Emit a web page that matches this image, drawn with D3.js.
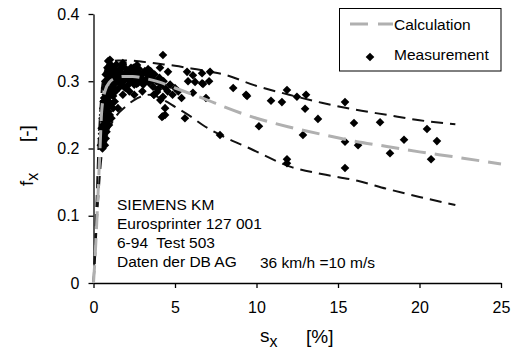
<!DOCTYPE html>
<html><head><meta charset="utf-8">
<script src="https://cdn.jsdelivr.net/npm/d3@7"></script>
<style>body{margin:0;background:#fff}svg{display:block}text{font-family:"Liberation Sans",Arial,sans-serif;fill:#000}</style>
</head><body><svg id="c" width="517" height="354"></svg>
<script>
// ---- data ----
const xTicks = [0, 5, 10, 15, 20, 25];
const yTicks = [0, 0.1, 0.2, 0.3, 0.4];

const calcS = [0,0.1,0.2,0.3,0.4,0.5,0.7,1.0,1.4,1.8,2.4,3,4,5,6,7,8,10,12,14,16,18,20,22,25];
const calcF = [0,0.04,0.09,0.145,0.2,0.255,0.285,0.299,0.305,0.307,0.307,0.305,0.299,0.29,0.281,0.272,0.262,0.245,0.232,0.221,0.211,0.203,0.195,0.188,0.177];

const upperS = [0,0.1,0.2,0.3,0.4,0.5,0.65,0.8,1.0,1.5,2,3,4,5,6,7,8,10,12,14,16,18,20,22.2];
const upperF = [0,0.06,0.13,0.2,0.25,0.285,0.31,0.322,0.328,0.331,0.331,0.329,0.326,0.323,0.319,0.315,0.31,0.293,0.28,0.268,0.258,0.25,0.242,0.236];

const lowerS = [0,0.1,0.2,0.3,0.5,0.8,1.3,2,2.7,3.5,4.3,5,6,6.7,7.8,9.6,12.2,14,16.2,18,20,22.2];
const lowerF = [0,0.04,0.09,0.13,0.19,0.22,0.245,0.263,0.275,0.28,0.272,0.262,0.247,0.235,0.22,0.2,0.172,0.162,0.152,0.14,0.128,0.116];

const measS = [
 0.45,0.5,0.55,0.6,0.65,0.7,0.75,0.5,0.6,0.7,0.8,0.55,0.65,0.75,0.85,0.95,0.6,0.7,0.8,0.9,1.0,1.1,0.65,0.75,0.85,0.95,1.05,1.2,1.3,0.7,0.8,0.9,1.0,1.1,1.2,1.35,
 0.75,0.85,0.9,0.95,1.0,1.05,1.1,1.15,1.2,1.25,1.3,1.35,1.4,1.45,1.5,1.55,1.6,1.65,1.7,1.75,1.8,1.85,1.9,1.95,2.0,2.1,2.15,2.2,2.3,2.35,2.4,2.5,2.55,2.6,2.7,2.75,2.8,2.9,3.0,3.05,3.15,3.2,3.3,3.4,3.5,3.55,3.65,3.75,3.85,3.95,4.05,4.15,4.3,4.4,4.55,4.7,4.85,5.0,5.2,5.4,
 0.52,0.58,0.62,0.68,0.72,0.78,0.82,0.88,0.92,0.98,1.08,1.18,1.28,1.42,1.58,1.72,1.88,2.05,2.25,2.45,2.65,2.85,3.1,3.35,3.6,
 1.5,1.8,2.2,2.5,3.0,3.7,3.9,4.26,4.39,4.39,4.2,4.1,4.26,1.01,2.67,4.26,4.08,4.57,1.8,
 5.74,6.1,6.66,7.15,5.8,6.23,6.66,6.72,7.09,6.1,6.9,5.61,3.71,7.76,9.42,
 8.57,9.36,10.89,11.56,11.87,12.48,13.04,12.98,13.77,10.15,12.85,11.87,11.87,15.43,15.43,15.43,15.98,17.58,20.46,16.23,19.05,21.07,18.19,20.71
];
const measF = [
 0.205,0.215,0.2,0.21,0.22,0.205,0.215,0.23,0.235,0.23,0.225,0.245,0.25,0.245,0.24,0.235,0.26,0.265,0.26,0.255,0.25,0.245,0.275,0.28,0.275,0.27,0.265,0.26,0.27,0.29,0.295,0.288,0.285,0.28,0.278,0.285,
 0.31,0.32,0.33,0.305,0.315,0.325,0.3,0.31,0.32,0.295,0.305,0.315,0.325,0.3,0.31,0.29,0.318,0.305,0.295,0.312,0.325,0.3,0.31,0.29,0.318,0.305,0.295,0.312,0.32,0.3,0.31,0.295,0.315,0.305,0.312,0.298,0.318,0.305,0.31,0.295,0.315,0.302,0.31,0.298,0.315,0.305,0.292,0.31,0.3,0.288,0.305,0.295,0.3,0.29,0.285,0.295,0.28,0.29,0.285,0.275,
 0.222,0.25,0.27,0.24,0.3,0.27,0.31,0.3,0.28,0.32,0.31,0.292,0.315,0.308,0.3,0.32,0.292,0.308,0.302,0.32,0.296,0.31,0.3,0.318,0.302,
 0.26,0.28,0.285,0.28,0.285,0.28,0.284,0.277,0.26,0.25,0.247,0.272,0.248,0.332,0.324,0.339,0.32,0.314,0.327,
 0.314,0.309,0.312,0.314,0.3,0.299,0.297,0.296,0.3,0.283,0.275,0.245,0.28,0.22,0.278,
 0.29,0.28,0.271,0.269,0.287,0.277,0.28,0.259,0.244,0.233,0.22,0.184,0.178,0.269,0.21,0.171,0.238,0.239,0.229,0.205,0.213,0.211,0.193,0.184
];

const infoLines = ["SIEMENS KM", "Eurosprinter 127 001", "6-94  Test 503", "Daten der DB AG"];
const speedNote = "36 km/h =10 m/s";

// ---- chart ----
const svg = d3.select("#c");
const x = d3.scaleLinear([0, 25], [93.5, 501]);
const y = d3.scaleLinear([0, 0.4], [283, 14]);

const font = '"Liberation Sans",Arial,sans-serif';

const yAxis = svg.append("g").attr("transform", "translate(93.5,0)")
  .call(d3.axisLeft(y).tickValues(yTicks).tickSize(5).tickSizeOuter(0).tickPadding(9)
    .tickFormat(d => d === 0 ? "0" : d3.format(".1f")(d)));
const xAxis = svg.append("g").attr("transform", "translate(0,283)")
  .call(d3.axisBottom(x).tickValues(xTicks).tickSize(5).tickSizeOuter(0).tickPadding(13.5));
[yAxis, xAxis].forEach(g => {
  g.selectAll("path,line").attr("stroke", "#000").attr("stroke-width", 1.3);
  g.selectAll("text").attr("font-size", 16).attr("font-family", font).attr("fill", "#000");
});

const line = d3.line().x(d => x(d[0])).y(d => y(d[1])).curve(d3.curveMonotoneX);
const zip = (a, b) => a.map((v, i) => [v, b[i]]);

svg.append("path").datum(zip(upperS, upperF)).attr("d", line)
  .attr("fill", "none").attr("stroke", "#111").attr("stroke-width", 2).attr("stroke-dasharray", "12,7");
svg.append("path").datum(zip(lowerS, lowerF)).attr("d", line)
  .attr("fill", "none").attr("stroke", "#111").attr("stroke-width", 2).attr("stroke-dasharray", "12,7");

const diamond = "M0,-4.3L4.3,0L0,4.3L-4.3,0Z";
svg.append("g").selectAll("path").data(zip(measS, measF)).join("path")
  .attr("d", diamond).attr("transform", d => `translate(${x(d[0])},${y(d[1])})`).attr("fill", "#000");

svg.append("path").datum(zip(calcS, calcF)).attr("d", line)
  .attr("fill", "none").attr("stroke", "#b0b0b0").attr("stroke-width", 3).attr("stroke-dasharray", "18,9");

// legend
svg.append("rect").attr("x", 339.5).attr("y", 8.5).attr("width", 161.5).attr("height", 62.5)
  .attr("fill", "#fff").attr("stroke", "#000").attr("stroke-width", 1);
svg.append("line").attr("x1", 350).attr("x2", 393).attr("y1", 24).attr("y2", 24)
  .attr("stroke", "#b0b0b0").attr("stroke-width", 3).attr("stroke-dasharray", "18,10");
svg.append("path").attr("d", diamond).attr("transform", "translate(370,57)").attr("fill", "#000");
svg.append("text").attr("x", 394).attr("y", 30).attr("font-size", 15.5).text("Calculation");
svg.append("text").attr("x", 394).attr("y", 60).attr("font-size", 15.5).text("Measurement");

// info text
svg.append("g").selectAll("text").data(infoLines).join("text")
  .attr("x", 117).attr("y", (d, i) => 210 + i * 19).attr("font-size", 15.5)
  .attr("xml:space", "preserve").style("white-space", "pre").text(d => d);
svg.append("text").attr("x", 260).attr("y", 268).attr("font-size", 15.5).text(speedNote);

// axis titles
const xt = svg.append("text").attr("x", 260).attr("y", 342).attr("font-size", 19);
xt.append("tspan").text("s");
xt.append("tspan").attr("dy", 5).attr("font-size", 16).text("x");
svg.append("text").attr("x", 306).attr("y", 343).attr("font-size", 19).text("[%]");

const yt = svg.append("text").attr("transform", "translate(33,186) rotate(-90)").attr("font-size", 19);
yt.append("tspan").text("f");
yt.append("tspan").attr("dy", 5).attr("font-size", 16).text("x");
svg.append("text").attr("transform", "translate(33,142) rotate(-90)").attr("font-size", 19).text("[-]");
</script></body></html>
